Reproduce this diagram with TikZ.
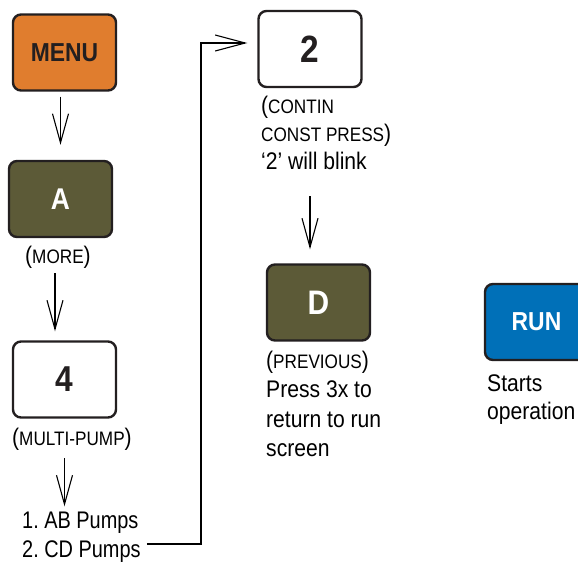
\documentclass[tikz,border=0pt]{standalone}
\usepackage{fontspec}
\setmainfont{Liberation Sans}[FakeStretch=0.88]
\newfontfamily\narrowfont{Liberation Sans}[FakeStretch=0.83]
\usetikzlibrary{arrows.meta}
\definecolor{menuorange}{HTML}{E07D2E}
\definecolor{keyolive}{HTML}{5C5A37}
\definecolor{runblue}{HTML}{0070B8}
\definecolor{keyline}{HTML}{231F20}
\frenchspacing
\newcommand{\lbl}[1]{{\fontsize{24}{29}\selectfont(}{\fontsize{19.5}{29}\selectfont #1}{\fontsize{24}{29}\selectfont)}}
\newcommand{\lblo}[1]{{\fontsize{24}{29}\selectfont(}{\fontsize{19.5}{29}\selectfont #1}}
\newcommand{\lblc}[1]{{\fontsize{19.5}{29}\selectfont #1}{\fontsize{24}{29}\selectfont)}}
\begin{document}
\begin{tikzpicture}[x=1pt,y=-1pt,
  keybox/.style={draw=keyline, line width=2.4pt, rounded corners=8pt,
    minimum width=103pt, minimum height=76pt, inner sep=0pt},
  txt/.style={inner sep=0pt, font=\fontsize{24}{29}\selectfont, text=black, anchor=base west},
  narrowtxt/.style={txt, font=\narrowfont\fontsize{24}{29}\selectfont},
  varrow/.style={line width=1.8pt, -{Straight Barb[length=29pt,width=16pt,line width=1.1pt]}},
  elbow/.style={line width=2pt, -{Straight Barb[length=30pt,width=16pt,line width=1.1pt]}}
]
\useasboundingbox (0,0) rectangle (578,563);
\clip (0,0) rectangle (578,563);

% keys
\node[keybox, fill=menuorange, text=keyline, font=\bfseries\fontsize{26}{26}\selectfont] (menu) at (64.5,52.5) {MENU};
\node[keybox, fill=keyolive, text=white, font=\bfseries\fontsize{30}{30}\selectfont] (a) at (60.5,199) {A};
\node[keybox, fill=white, text=keyline, font=\bfseries\fontsize{36}{36}\selectfont] (four) at (64.5,379.5) {4};
\node[keybox, fill=white, text=keyline, font=\bfseries\fontsize{38}{38}\selectfont] (two) at (310,49) {2};
\node[keybox, fill=keyolive, text=white, font=\bfseries\fontsize{34}{34}\selectfont] (d) at (318.5,302.5) {D};
\node[keybox, fill=runblue, text=white, font=\bfseries\fontsize{26}{26}\selectfont] (run) at (536.5,322) {RUN};

% labels
\node[txt] (more) at (25,263) {\lbl{MORE}};
\node[txt] (multi) at (12,445) {\lbl{MULTI-PUMP}};
\node[narrowtxt] (pump1) at (22,528) {1. AB Pumps};
\node[narrowtxt] (pump2) at (22,557) {2. CD Pumps};
\node[txt] (contin) at (261,113) {\lblo{CONTIN}};
\node[txt] (constp) at (261,141.5) {\lblc{CONST PRESS}};
\node[txt] (blink) at (261,169) {‘2’ will blink};
\node[txt] (prev) at (266,368) {\lbl{PREVIOUS}};
\node[txt] (press) at (266,397.5) {Press 3x to};
\node[txt] (retrn) at (266,427) {return to run};
\node[txt] (scrn) at (266,456) {screen};
\node[txt] (starts) at (487,391) {Starts};
\node[txt] (oper) at (487,419.5) {operation};

% connectors
\draw[varrow, shorten <=5pt, shorten >=15pt] (menu.south -| a.north) -- (a.north);
\draw[varrow, shorten <=5pt, shorten >=9pt] ([xshift=30pt]more.south west) -- ([xshift=30pt]more.south west |- four.north);
\draw[varrow, shorten <=8pt, shorten >=5pt] (multi.south -| four.south) -- (pump1.north -| four.south);
\draw[varrow, shorten <=27pt, shorten >=14pt] (blink.south -| two.south) -- (d.north -| two.south);
\coordinate (bendtop) at (201,43);
\draw[elbow, shorten >=10pt] ([xshift=6pt,yshift=13pt]pump2.base east) -| (bendtop) -- ([yshift=6pt]two.west);
\end{tikzpicture}
\end{document}
